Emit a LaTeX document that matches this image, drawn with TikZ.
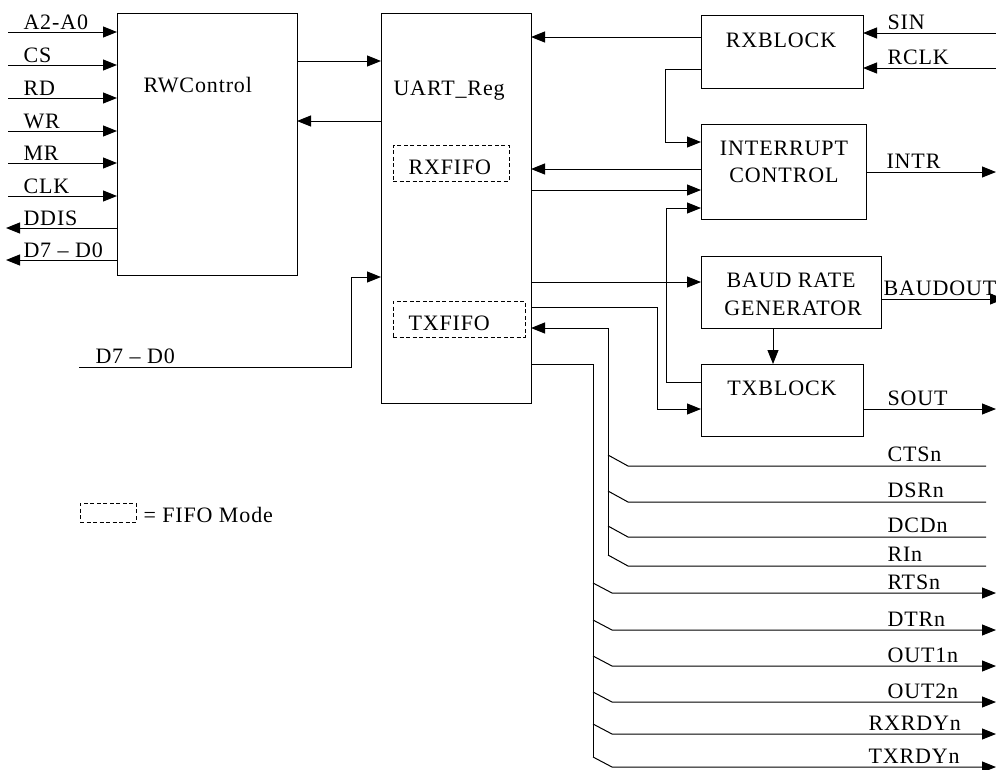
\documentclass[tikz,border=0pt]{standalone}
\usepackage{fontspec}
\setmainfont{Liberation Serif}[LetterSpace=4]
\usetikzlibrary{arrows.meta}
\begin{document}
\begin{tikzpicture}[x=1pt,y=-1pt,line width=1pt,
  box/.style={draw,inner sep=0pt,outer sep=0pt},
  fifo/.style={draw,dash pattern=on 4pt off 2.5pt,line width=0.8pt,inner sep=0pt,outer sep=0pt},
  arr/.style={-{Triangle[length=14pt,width=11pt]}},
  lbl/.style={anchor=base west,inner sep=0pt,font=\fontsize{22}{27}\selectfont},
  ttl/.style={anchor=base,inner sep=0pt,font=\fontsize{22}{27}\selectfont}]
\useasboundingbox (0,0) rectangle (996,769);

% ---------- blocks ----------
\node[box,minimum width=180pt,minimum height=262pt] (rw)   at (207,144) {};
\node[box,minimum width=150pt,minimum height=390pt] (uart) at (456,208) {};
\node[fifo,minimum width=116pt,minimum height=36pt] (rxf)  at (451,163) {};
\node[fifo,minimum width=132pt,minimum height=36pt] (txf)  at (459,319) {};
\node[box,minimum width=162pt,minimum height=73pt]  (rx)   at (782,51.5) {};
\node[box,minimum width=165pt,minimum height=95pt]  (int)  at (783.5,171.5) {};
\node[box,minimum width=180pt,minimum height=72pt]  (baud) at (791,292) {};
\node[box,minimum width=162pt,minimum height=72pt]  (tx)   at (782,400) {};

% ---------- block texts ----------
\node[lbl] (trw)   at (143,92)  {RWControl};
\node[lbl] (tuart) at (393,95)  {UART\_Reg};
\node[lbl] (trxf)  at (408,174) {RXFIFO};
\node[lbl] (ttxf)  at (408,330) {TXFIFO};
\node[ttl] (trx)   at (781,47)  {RXBLOCK};
\node[ttl] (tint1) at (784,155) {INTERRUPT};
\node[ttl] (tint2) at (784,182) {CONTROL};
\node[ttl] (tbd1)  at (791,287) {BAUD RATE};
\node[ttl] (tbd2)  at (793,315) {GENERATOR};
\node[ttl] (ttx)   at (782,395) {TXBLOCK};

% ---------- left side pins ----------
\foreach \y/\t/\n in {32/A2-A0/a, 65/CS/cs, 98/RD/rd, 131/WR/wr, 163/MR/mr, 196/CLK/clk}{
  \coordinate (in\n) at (8,\y);
  \node[lbl] (l\n) at (23,\y-3) {\t};
  \draw[arr] (in\n) -- (rw.west |- in\n);
}
\foreach \y/\t/\n in {228/DDIS/ddis, 260/D7 -- D0/dout}{
  \coordinate (out\n) at (6,\y);
  \node[lbl] (l\n) at (23,\y-3) {\t};
  \draw[arr] (rw.west |- out\n) -- (out\n);
}

% ---------- RWControl <-> UART_Reg ----------
\draw[arr] (rw.east |- 0,61) -- (uart.west |- 0,61);
\draw[arr] (uart.west |- 0,121) -- (rw.east |- 0,121);

% data bus input
\coordinate (din) at (79,367);
\node[lbl] (ldin) at (95,363) {D7 -- D0};
\draw[arr] (din) -- (351,367) -- (351,277) -- (uart.west |- 0,277);

% ---------- right side ----------
\coordinate (sin) at (996,33);
\coordinate (rclk) at (996,68);
\node[lbl] (lsin) at (887,29) {SIN};
\node[lbl] (lrclk) at (887,64) {RCLK};
\draw[arr] (sin) -- (rx.east |- sin);
\draw[arr] (rclk) -- (rx.east |- rclk);

\draw[arr] (rx.west |- 0,37) -- (uart.east |- 0,37);
\draw[arr] (rx.west |- 0,69) -- (665,69) -- (665,142) -- (int.west |- 0,142);
\draw[arr] (int.west |- 0,169) -- (uart.east |- 0,169);
\draw[arr] (uart.east |- 0,190) -- (int.west |- 0,190);
\draw[arr] (tx.west |- 0,382) -- (666,382) -- (666,208) -- (int.west |- 0,208);
\draw[arr] (uart.east |- 0,282) -- (baud.west |- 0,282);
\draw[arr] (uart.east |- 0,307) -- (657,307) -- (657,409) -- (tx.west |- 0,409);
\draw[arr] (baud.south -| 773,0) -- (tx.north -| 773,0);

\coordinate (intr) at (996,172);
\coordinate (bout) at (1004,299);
\coordinate (sout) at (996,409);
\node[lbl] (lintr) at (886,168) {INTR};
\node[lbl] (lbout) at (883,295) {BAUDOUT};
\node[lbl] (lsout) at (887,405) {SOUT};
\draw[arr] (int.east |- intr) -- (intr);
\draw[arr] (baud.east |- bout) -- (bout);
\draw[arr] (tx.east |- sout) -- (sout);

% ---------- modem inputs ----------
\coordinate (ibus) at (608,556);
\draw[arr] (ibus) -- (608,328) -- (uart.east |- 0,328);
\foreach \y/\t in {466/CTSn, 502/DSRn, 537/DCDn, 566/RIn}{
  \coordinate (p\t) at (986,\y);
  \node[lbl] (l\t) at (887,\y-5) {\t};
  \draw (p\t) -- (628,\y) -- (608,\y-11);
}

% ---------- modem outputs ----------
\coordinate (obus) at (593,757);
\draw (uart.east |- 0,364) -- (593,364) -- (obus);
\foreach \y/\t/\lx in {593/RTSn/887, 630/DTRn/887, 666/OUT1n/887, 702/OUT2n/887, 734/RXRDYn/868, 767/TXRDYn/868}{
  \coordinate (q\t) at (996,\y);
  \node[lbl] (l\t) at (\lx,\y-4) {\t};
  \draw[arr] (593,\y-10) -- (612,\y) -- (q\t);
}

% ---------- legend ----------
\node[fifo,minimum width=56pt,minimum height=19pt] (leg) at (108,512.5) {};
\node[lbl] (tleg) at (143,522) {= FIFO Mode};
\end{tikzpicture}
\end{document}
